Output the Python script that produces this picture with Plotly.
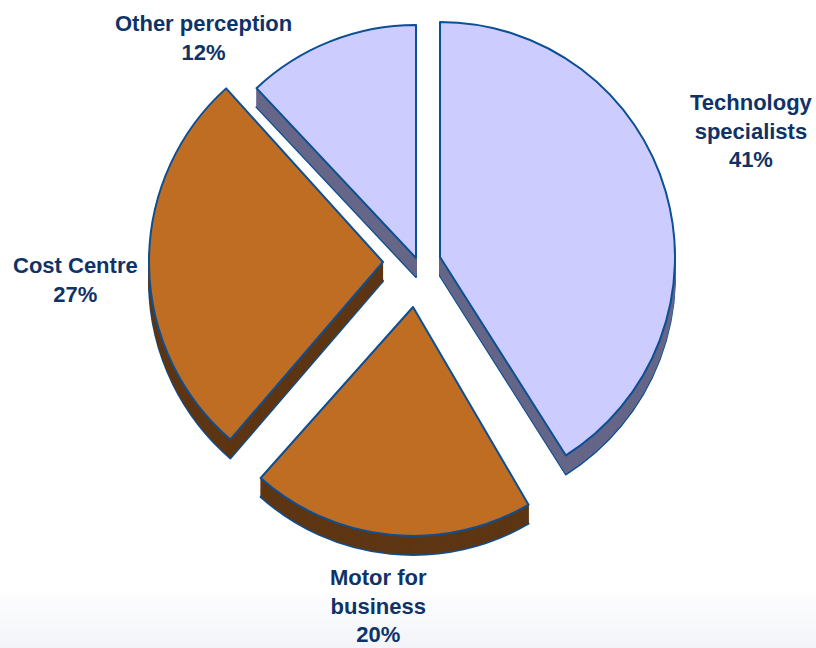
import plotly.graph_objects as go

W, H = 816, 648

# Chart data, in clockwise order from twelve o'clock
categories = ["Technology specialists", "Motor for business", "Cost Centre", "Other perception"]
shares = [41, 20, 27, 12]
label_text = ["Technology<br>specialists<br>41%", "Motor for<br>business<br>20%",
              "Cost Centre<br>27%", "Other perception<br>12%"]

# Appearance of each slice
top_colors = ["#CCCCFF", "#C06D24", "#C06D24", "#CCCCFF"]
side_colors = ["#666688", "#5E3614", "#5E3614", "#666688"]
centers = [(440, 257), (413, 307), (383, 262), (416, 258)]
radii = [235, 229, 234, 233]
turn_offsets = [0, 2.1, 1.1, 0]  # degrees, small tilt of the exploded wedges
label_pos = [(751, 131), (378, 606), (75, 280), (203, 38)]
OUTLINE = "#0B4F94"
TEXT = "#0F3366"
DEPTH = 19


def slice_trace(name, value, angle, cx, cy, r, color, line_color, line_width):
    """One exploded wedge: a pie whose remainder is left invisible."""
    return go.Pie(
        labels=[name, "rest"],
        values=[value, sum(shares) - value],
        sort=False,
        direction="clockwise",
        rotation=angle,
        textinfo="none",
        hoverinfo="skip",
        showlegend=False,
        marker=dict(colors=[color, "rgba(0,0,0,0)"],
                    line=dict(color=[line_color, "rgba(0,0,0,0)"], width=[line_width, 0])),
        domain=dict(x=[(cx - r) / W, (cx + r) / W],
                    y=[1 - (cy + r) / H, 1 - (cy - r) / H]),
    )


fig = go.Figure()
start = 0
for name, value, (cx, cy), r, turn, top, side in zip(categories, shares, centers, radii, turn_offsets,
                                                     top_colors, side_colors):
    angle = start * 3.6 + turn
    # Extrude the wedge by stacking copies downward, then put the face on top
    fig.add_trace(slice_trace(name, value, angle, cx, cy + DEPTH, r, side, OUTLINE, 2))
    for dy in range(DEPTH - 1, 0, -1):
        fig.add_trace(slice_trace(name, value, angle, cx, cy + dy, r, side, side, 1))
    fig.add_trace(slice_trace(name, value, angle, cx, cy, r, top, OUTLINE, 2))
    start += value

# Pale blue fade along the bottom of the page
BAND_TOP, STEPS = 588, 30
shapes = []
for i in range(STEPS):
    t = (i + 1) / STEPS
    y0 = BAND_TOP + (H - BAND_TOP) * i / STEPS
    y1 = BAND_TOP + (H - BAND_TOP) * (i + 1) / STEPS
    shapes.append(dict(
        type="rect", xref="paper", yref="paper", layer="below", line_width=0,
        x0=0, x1=1, y0=1 - y1 / H, y1=1 - y0 / H,
        fillcolor=f"rgb({round(255 - 12 * t)},{round(255 - 11 * t)},{round(255 - 6 * t)})",
    ))

annotations = [
    dict(text=text, x=x / W, y=1 - y / H, xref="paper", yref="paper", xanchor="center", yanchor="middle",
         showarrow=False, align="center",
         font=dict(family="Liberation Sans, Arial, sans-serif", size=22, color=TEXT, weight="bold"))
    for text, (x, y) in zip(label_text, label_pos)
]

fig.update_layout(
    width=W, height=H, margin=dict(l=0, r=0, t=0, b=0),
    paper_bgcolor="white", plot_bgcolor="white",
    shapes=shapes, annotations=annotations,
)
fig.write_html("out.html")
